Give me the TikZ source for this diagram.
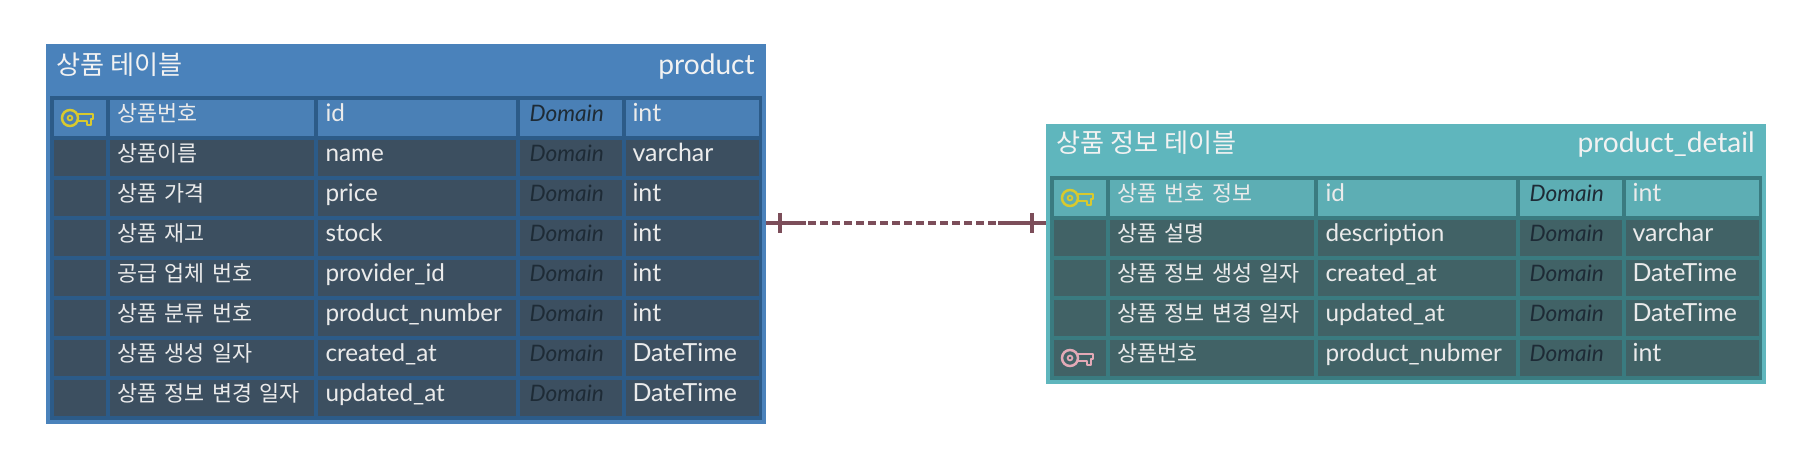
\documentclass[tikz,border=0pt]{standalone}
\usepackage{fontspec}
\usepackage{xcolor}
\setmainfont{Lato}
\newfontfamily\kr{Noto Sans CJK KR}
\usetikzlibrary{positioning,calc}
\definecolor{prodtitle}{HTML}{4A82BB}
\definecolor{prodgrid}{HTML}{2C5B88}
\definecolor{proddark}{HTML}{3C4F60}
\definecolor{prodkey}{HTML}{4A80B6}
\definecolor{dettitle}{HTML}{5FB6BD}
\definecolor{detgrid}{HTML}{3A7B80}
\definecolor{detdark}{HTML}{416266}
\definecolor{detkey}{HTML}{5DAEB4}
\definecolor{domtext}{HTML}{1E2B36}
\definecolor{linkcol}{HTML}{7C4E5A}
\definecolor{keygold}{HTML}{D8C92E}
\definecolor{keypink}{HTML}{E3A9B6}
\newcommand{\krsize}{\fontsize{12.4pt}{15pt}\selectfont}
\newcommand{\idsize}{\fontsize{13.8pt}{16pt}\selectfont}
\newcommand{\typesize}{\fontsize{14.2pt}{16pt}\selectfont}
\newcommand{\domsize}{\fontsize{12.9pt}{15pt}\selectfont}
\newcommand{\krtitle}{\fontsize{14.9pt}{17pt}\selectfont}
\newcommand{\latintitle}{\fontsize{16pt}{18pt}\selectfont}
% one table row: name, top, row style, korean text, column, type
\newcommand{\fieldrow}[6]{
  \node[iconcell,#3] (#1icon) at (54,#2) {};
  \node[namecell,#3] (#1name) at (110,#2) {#4};
  \node[idcell,#3] (#1id) at (318,#2) {#5};
  \node[domcell,#3] (#1dom) at (520,#2) {Domain};
  \node[typecell,#3] (#1type) at (626,#2) {#6};
}
\newcommand{\detailrow}[6]{
  \node[iconcell,#3] (#1icon) at (1054,#2) {};
  \node[namecell,#3] (#1name) at (1110,#2) {#4};
  \node[idcell,#3] (#1id) at (1318,#2) {#5};
  \node[domcell,#3] (#1dom) at (1520,#2) {Domain};
  \node[typecell,#3] (#1type) at (1626,#2) {#6};
}
\begin{document}
\begin{tikzpicture}[
  x=0.2mm, y=-0.2mm,
  cell/.style={anchor=north west, inner ysep=0pt, outer sep=0pt, align=left,
    text height=4.3mm, text depth=2.9mm, text=white!92!black},
  iconcell/.style={cell, inner xsep=1.7mm, text width=7mm},
  namecell/.style={cell, inner xsep=1.5mm, text width=37.8mm, font=\krsize\kr},
  idcell/.style={cell, inner xsep=1.5mm, text width=36.6mm, font=\idsize},
  domcell/.style={cell, inner xsep=1.9mm, text width=16.6mm, font=\domsize\itshape, text=domtext},
  typecell/.style={cell, inner xsep=1.3mm, text width=24mm, font=\typesize},
  prodrow/.style={fill=proddark},
  prodkeyrow/.style={fill=prodkey},
  detrow/.style={fill=detdark},
  detkeyrow/.style={fill=detkey},
  tablebox/.style={anchor=north west, inner sep=0pt, outer sep=0pt},
  titleleft/.style={anchor=base west, inner sep=0pt, text=white!95!black, font=\krtitle\kr},
  titleright/.style={anchor=base east, inner sep=0pt, text=white!95!black, font=\latintitle},
  link/.style={linkcol, line width=0.75mm},
  pics/keyicon/.style={code={
    \draw[#1, line width=0.5mm] (-10,0) circle (8);
    \draw[#1, line width=0.35mm] (-10,0) circle (2.4);
    \draw[#1, line width=0.5mm, line join=round] (-2,-4) -- (13,-4) -- (13,1) -- (11,1) -- (11,7) -- (7,7) -- (7,3) -- (-2,3);
  }}
]
\useasboundingbox (0,0) rectangle (1810,466);
% product table
\node[tablebox, fill=prodtitle, minimum width=144mm, minimum height=76mm] (product) at (46,44) {};
\node[tablebox, fill=prodgrid, minimum width=142.4mm, minimum height=64.8mm] (prodgrid) at (50,96) {};
\node[titleleft] (prodtitle) at (56,75) {상품 테이블};
\node[titleright] (prodname) at (755,75) {product};
\fieldrow{pa}{100}{prodkeyrow}{상품번호}{id}{int}
\fieldrow{pb}{140}{prodrow}{상품이름}{name}{varchar}
\fieldrow{pc}{180}{prodrow}{상품 가격}{price}{int}
\fieldrow{pd}{220}{prodrow}{상품 재고}{stock}{int}
\fieldrow{pe}{260}{prodrow}{공급 업체 번호}{provider\_id}{int}
\fieldrow{pf}{300}{prodrow}{상품 분류 번호}{product\_number}{int}
\fieldrow{pg}{340}{prodrow}{상품 생성 일자}{created\_at}{DateTime}
\fieldrow{ph}{380}{prodrow}{상품 정보 변경 일자}{updated\_at}{DateTime}
\pic at (paicon.center) {keyicon=keygold};
% product detail table
\node[tablebox, fill=dettitle, minimum width=144mm, minimum height=52mm] (detail) at (1046,124) {};
\node[tablebox, fill=detgrid, minimum width=142.4mm, minimum height=40.8mm] (detgrid) at (1050,176) {};
\node[titleleft] (dettitle) at (1056,153) {상품 정보 테이블};
\node[titleright] (detname) at (1755,153) {product\_detail};
\detailrow{da}{180}{detkeyrow}{상품 번호 정보}{id}{int}
\detailrow{db}{220}{detrow}{상품 설명}{description}{varchar}
\detailrow{dc}{260}{detrow}{상품 정보 생성 일자}{created\_at}{DateTime}
\detailrow{dd}{300}{detrow}{상품 정보 변경 일자}{updated\_at}{DateTime}
\detailrow{de}{340}{detrow}{상품번호}{product\_nubmer}{int}
\pic at (daicon.center) {keyicon=keygold};
\pic at (deicon.center) {keyicon=keypink};
% relation
\coordinate (prodlink) at (product.east |- 0,223);
\coordinate (detlink) at (detail.west |- 0,223);
\coordinate (prodtick) at ($(prodlink)+(14,0)$);
\coordinate (dettick) at ($(detlink)+(-14,0)$);
\draw[link] (prodlink) -- ($(prodlink)+(40,0)$);
\draw[link] ($(detlink)+(-48,0)$) -- (detlink);
\draw[link, dash pattern=on 1.6mm off 0.8mm] ($(prodlink)+(42,0)$) -- ($(detlink)+(-50,0)$);
\draw[link] ($(prodtick)+(0,-10)$) -- ($(prodtick)+(0,10)$);
\draw[link] ($(dettick)+(0,-10)$) -- ($(dettick)+(0,10)$);
\end{tikzpicture}
\end{document}
